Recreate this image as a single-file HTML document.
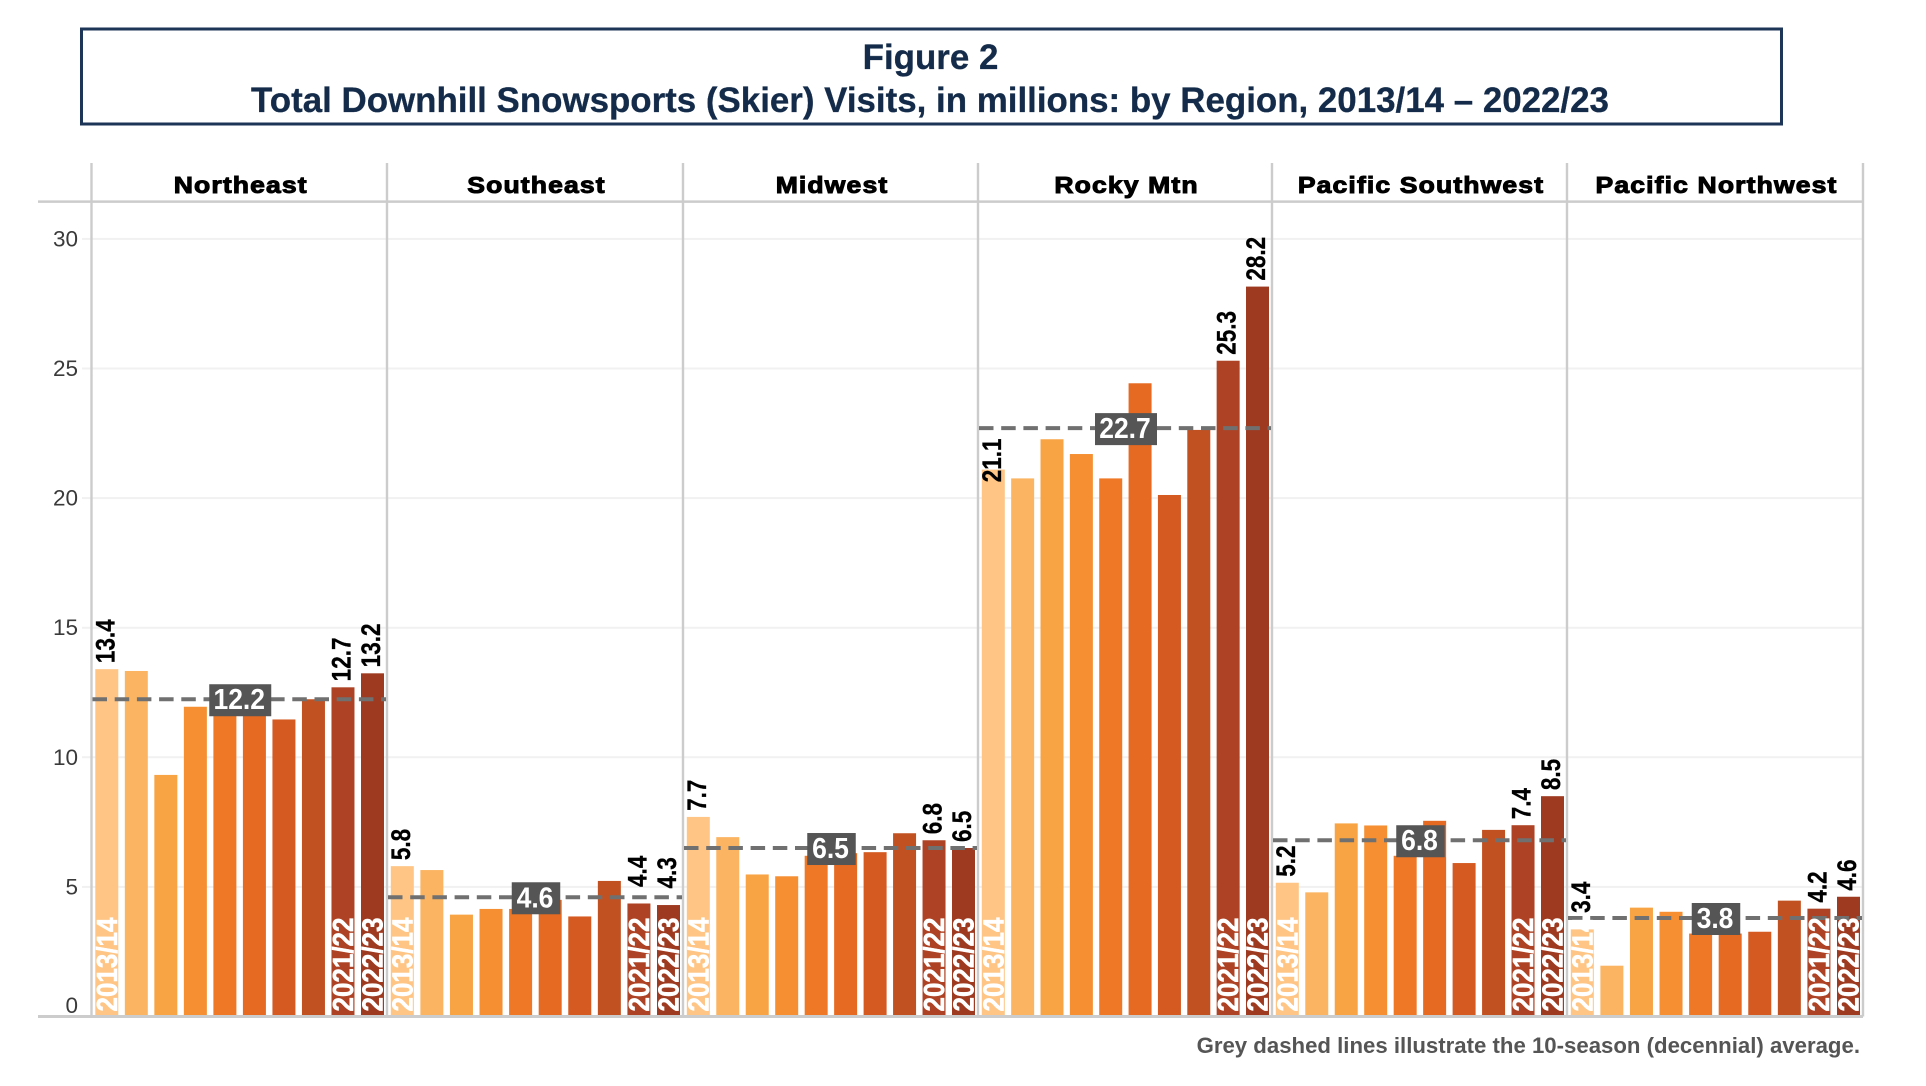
<!DOCTYPE html>
<html lang="en">
<head>
<meta charset="utf-8">
<title>Figure 2 - Total Downhill Snowsports Visits by Region</title>
<style>
html,body{margin:0;padding:0;background:#fff;}
body{width:1926px;height:1086px;overflow:hidden;}
svg{display:block;font-family:"Liberation Sans",Arial,sans-serif;}
</style>
</head>
<body>
<svg id="chart" xmlns="http://www.w3.org/2000/svg" width="1926" height="1086" viewBox="0 0 1926 1086">
  <rect x="0" y="0" width="1926" height="1086" fill="#ffffff"/>
  <rect x="81.5" y="29" width="1700" height="95" fill="#ffffff" stroke="#1d3557" stroke-width="3"/>
  <text x="930.5" y="69" text-anchor="middle" font-size="34.9" font-weight="700" fill="#142c4a" stroke="#142c4a" stroke-width="0.3">Figure 2</text>
  <text x="930" y="112" text-anchor="middle" font-size="34.9" font-weight="700" fill="#142c4a" stroke="#142c4a" stroke-width="0.3">Total Downhill Snowsports (Skier) Visits, in millions: by Region, 2013/14 – 2022/23</text>
  <g id="plot"></g>
  <text x="1860" y="1053" text-anchor="end" font-size="22.2" font-weight="700" fill="#555555">Grey dashed lines illustrate the 10-season (decennial) average.</text>
</svg>
<script>
const regions = ["Northeast", "Southeast", "Midwest", "Rocky Mtn", "Pacific Southwest", "Pacific Northwest"];
const seasons = ["2013/14", "2014/15", "2015/16", "2016/17", "2017/18", "2018/19", "2019/20", "2020/21", "2021/22", "2022/23"];
const northeast = [13.4, 13.33, 9.32, 11.95, 12.2, 12.2, 11.46, 12.24, 12.7, 13.24];
const southeast = [5.8, 5.65, 3.93, 4.15, 4.15, 4.5, 3.86, 5.23, 4.36, 4.3];
const midwest = [7.7, 6.92, 5.48, 5.41, 6.2, 6.3, 6.34, 7.07, 6.8, 6.5];
const rockyMtn = [21.1, 20.76, 22.27, 21.7, 20.76, 24.43, 20.12, 22.63, 25.3, 28.16];
const pacificSouthwest = [5.16, 4.79, 7.45, 7.37, 6.2, 7.55, 5.92, 7.2, 7.38, 8.5];
const pacificNorthwest = [3.36, 1.96, 4.2, 4.04, 3.2, 3.2, 3.27, 4.47, 4.16, 4.62];
const seriesByRegion = [northeast, southeast, midwest, rockyMtn, pacificSouthwest, pacificNorthwest];
const averages = [12.24, 4.6, 6.5, 22.7, 6.8, 3.8];
const tickValues = [0, 5, 10, 15, 20, 25, 30];
const labelledSeasons = ["2013/14", "2021/22", "2022/23"];
const barPalette = ["#fec585", "#fbb562", "#f8a444", "#f58f32", "#ef7826", "#e66a22", "#d45a22", "#c25121", "#ad4324", "#9e3a20"];

const NS = "http://www.w3.org/2000/svg";
const plot = document.getElementById("plot");
const panelEdges = [91.5, 387, 683, 978, 1272, 1567, 1863];
const barW = 23, barPadL = 3.8, barPadR = 3;
const y0 = 1016.5, pxPerUnit = 25.92;
const headerY = 201.6, plotEnd = panelEdges[regions.length];

function yScale(v) { return y0 - v * pxPerUnit; }
function panelX(p) { return panelEdges[p]; }
function barX(p, i) {
  const inner = panelEdges[p + 1] - panelEdges[p] - barPadL - barPadR - barW;
  return panelEdges[p] + barPadL + i * inner / (seasons.length - 1);
}
function make(tag, attrs, text) {
  const el = document.createElementNS(NS, tag);
  for (const k in attrs) el.setAttribute(k, attrs[k]);
  if (text !== undefined) el.textContent = text;
  plot.appendChild(el);
  return el;
}

/* gridlines and y-axis labels */
tickValues.forEach(function (t) {
  const y = yScale(t);
  if (t > 0) {
    const g = make("line", { x1: 82, x2: plotEnd, y1: y, y2: y, stroke: "#f1f1f1", "stroke-width": 2 });
    
    
  }
  const lab = make("text", { x: 78, y: (t === 0 ? y - 3.5 : y + 7.5), "text-anchor": "end", "font-size": 22.5, fill: "#3a3a3a" }, String(t));
  
  
});

/* panel separators */
for (let p = 0; p <= regions.length; p++) {
  const v = make("line", { x1: panelX(p), x2: panelX(p), y1: 163, y2: y0, stroke: "#cccccc", "stroke-width": 2.4 });
  
  
}
const headerRule = make("line", { x1: 38, x2: plotEnd + 1, y1: headerY, y2: headerY, stroke: "#cccccc", "stroke-width": 2.5 });



regions.forEach(function (region, p) {
  const cx = (panelX(p) + panelX(p + 1)) / 2;
  const head = make("text", { transform: "translate(" + (cx + 1.5) + ",193) scale(1.13,1)", "text-anchor": "middle", "font-size": 23.5, "font-weight": 700, fill: "#000", stroke: "#000", "stroke-width": 1, "letter-spacing": 1 }, region);
  
  

  const values = seriesByRegion[p];
  values.forEach(function (v, i) {
    const bar = make("rect", { x: barX(p, i), y: yScale(v), width: barW, height: y0 - yScale(v), fill: barPalette[i] });
    
    
  });

  const avg = averages[p];
  const avgY = yScale(avg);
  const dash = make("line", { x1: panelX(p) + 1, x2: panelX(p + 1) - 1, y1: avgY, y2: avgY, stroke: "#707070", "stroke-width": 4, "stroke-dasharray": "14.5 7.7" });
  
  

  values.forEach(function (v, i) {
    if (labelledSeasons.indexOf(seasons[i]) < 0) return;
    const c = barX(p, i) + barW / 2;
    const season = make("text", { transform: "translate(" + (c + 10) + "," + (y0 - 5) + ") rotate(-90) scale(1,1.1)", "font-size": 26, "font-weight": 700, fill: "#ffffff", stroke: "#ffffff", "stroke-width": 0.5 }, seasons[i]);
    
    
    const inside = p === 3 && i === 0;
    const lifted = v < avg && avg - v < 0.5;
    const startY = inside ? yScale(v) + 12.7 : yScale(v) - (lifted ? 16.5 : 6);
    const val = make("text", { transform: "translate(" + (c + 7.5) + "," + startY + ") rotate(-90) scale(1,1.2)", "font-size": 22.5, "font-weight": 700, fill: "#000000", stroke: "#000000", "stroke-width": 0.25 }, v.toFixed(1));
    
    
  });

  const txt = avg.toFixed(1);
  const boxW = txt.length > 3 ? 62 : 48.5;
  const box = make("rect", { x: cx + 1 - boxW / 2, y: avgY - 15, width: boxW, height: 32, fill: "#555555" });
  
  
  const avgText = make("text", { transform: "translate(" + cx + "," + (avgY + 10) + ") scale(1,1.08)", "text-anchor": "middle", "font-size": 26.5, "font-weight": 700, fill: "#ffffff" }, txt);
  
  
});

const axisLine = make("line", { x1: 38, x2: plotEnd, y1: y0, y2: y0, stroke: "#cccccc", "stroke-width": 3 });


</script>
</body>
</html>
